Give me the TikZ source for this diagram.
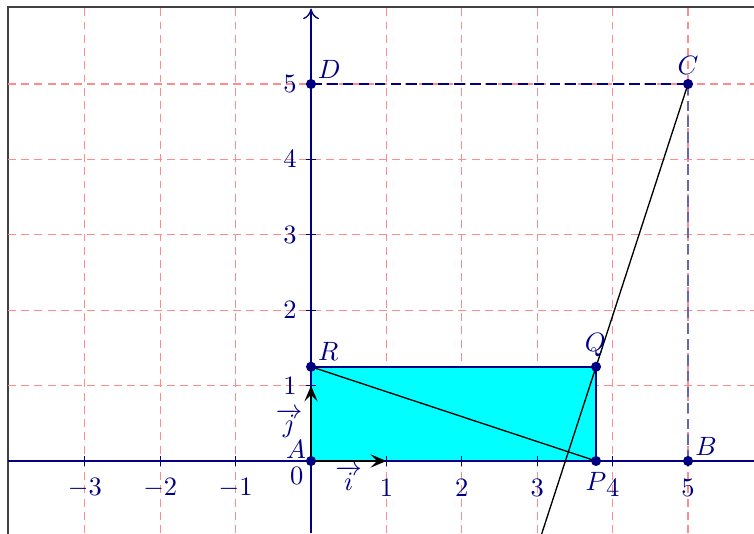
\documentclass[tikz,border=0pt]{standalone}
\usetikzlibrary{arrows.meta,calc}
\definecolor{navy}{RGB}{0,0,128}
\definecolor{gridred}{RGB}{255,140,140}
\definecolor{aqua}{RGB}{0,255,255}
\begin{document}
\begin{tikzpicture}[x=1cm,y=1cm,
  gridline/.style={gridred,dash pattern=on 3pt off 2pt,line width=0.45pt},
  ptdot/.style={fill=navy,draw=none},
  ptlabel/.style={text=navy,inner sep=0pt},
  ticklabel/.style={text=navy,inner sep=0pt},
  vecarrow/.style={black,line width=0.5pt,-{Stealth[length=6pt,width=5pt,inset=2.5pt]}},
  framebox/.style={draw=black!75,line width=0.6pt}]
\useasboundingbox (-4.125,-0.955) rectangle (5.875,6.114);
\begin{scope}
\clip (-4.125,-0.955) rectangle (5.875,6.114);
% frame
\draw[framebox] (-4.02,-1.5) rectangle (6.5,6.02);
% grid
\foreach \x in {-3,-2,-1,1,2,3,4,5} \draw[gridline] (\x,-0.955) -- (\x,6.02);
\foreach \y in {1,2,3,4,5} \draw[gridline] (-4.02,\y) -- (5.875,\y);
% points
\coordinate (A) at (0,0);
\coordinate (B) at (5,0);
\coordinate (C) at (5,5);
\coordinate (D) at (0,5);
\coordinate (P) at (3.78,0);
\coordinate (Q) at (3.78,1.25);
\coordinate (R) at (0,1.25);
\coordinate (I) at (1,0);
\coordinate (J) at (0,1);
\coordinate (xl) at (-4.02,0);
\coordinate (xr) at (5.875,0);
\coordinate (yb) at (0,-0.955);
\coordinate (yt) at (0,6.0);
% rectangle
\fill[aqua] (A) rectangle (Q);
\draw[navy,line width=0.6pt] (A) -- (P) -- (Q) -- (R) -- cycle;
% dashed sides
\draw[navy,dash pattern=on 4pt off 2pt,line width=0.5pt] (D) -- (C);
\draw[navy!60,dash pattern=on 4pt off 2pt,line width=0.5pt] (B) -- (C);
% axes
\draw[navy,line width=0.5pt] (xl) -- (xr);
\draw[navy,line width=0.5pt,-{To[length=4pt,width=6pt]}] (yb) -- (yt);
\foreach \x in {-3,-2,-1,1,2,3,4,5} {
  \draw[navy,line width=0.5pt] (\x,-0.07) -- (\x,0.07);
  \node[ticklabel] at (\x,-0.36) {$\x$};
}
\foreach \y in {1,2,3,4,5} {
  \draw[navy,line width=0.5pt] (-0.07,\y) -- (0.07,\y);
  \node[ticklabel] at (-0.28,\y) {$\y$};
}
\node[ticklabel] (zero) at (-0.19,-0.2) {$0$};
% lines
\draw[black,line width=0.5pt] (R) -- (P);
\draw[black,line width=0.5pt] (C) -- ($(C)!1.6!(Q)$);
% unit vectors
\draw[vecarrow] (A) -- (I);
\draw[vecarrow] (A) -- (J);
\node[ticklabel] (vi) at (0.5,-0.23) {$\overrightarrow{i}$};
\node[ticklabel] (vj) at (-0.29,0.5) {$\overrightarrow{j}$};
% dots
\foreach \p in {A,B,C,D,P,Q,R} \fill[ptdot] (\p) circle (1.9pt);
% labels
\node[ptlabel] (lA) at (-0.2,0.15) {$A$};
\node[ptlabel] (lB) at (5.24,0.19) {$B$};
\node[ptlabel] (lC) at (5,5.24) {$C$};
\node[ptlabel] (lD) at (0.24,5.19) {$D$};
\node[ptlabel] (lP) at (3.78,-0.27) {$P$};
\node[ptlabel] (lQ) at (3.77,1.54) {$Q$};
\node[ptlabel] (lR) at (0.23,1.45) {$R$};
\end{scope}
\end{tikzpicture}
\end{document}
